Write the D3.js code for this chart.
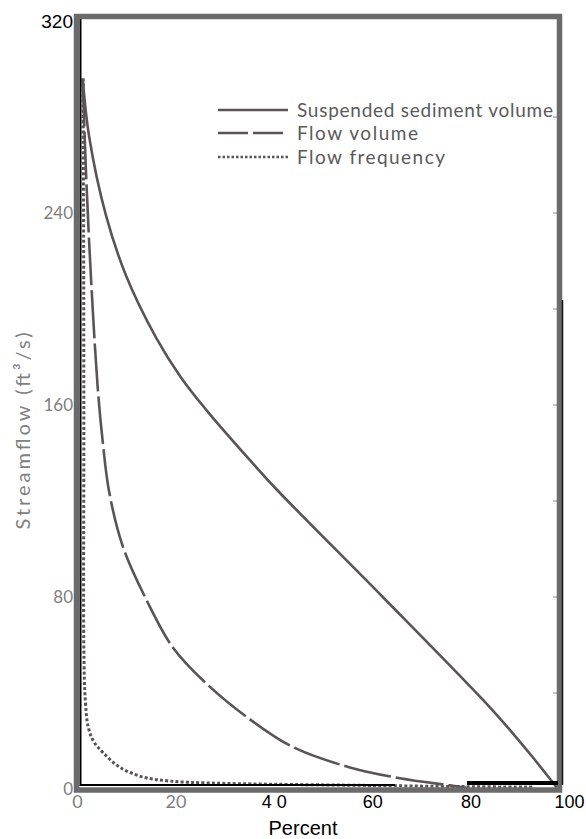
<!DOCTYPE html>
<html>
<head>
<meta charset="utf-8">
<script src="https://cdn.jsdelivr.net/npm/d3@7"></script>
<style>
  html, body { margin: 0; padding: 0; background: #fff; }
  svg { display: block; }
</style>
</head>
<body>
<svg id="chart" width="586" height="839"></svg>
<script>
// ---- data ----
const pctSediment = [0.36, 1.7, 5.25, 9.45, 15.8, 21, 26.3, 35.5, 41, 63.4, 84.5, 90.8, 95, 99.2, 100];
const sedimentVolume = [296, 272, 239, 214, 188, 171.5, 158, 137, 125, 80, 37, 23, 13, 2.5, 0.5];

const pctFlow = [0.36, 1.05, 2.1, 3.5, 4.6, 5.9, 8.8, 13.7, 19.3, 26.3, 35.5, 44.5, 56.5, 67, 77.5, 81];
const flowVolume = [296, 257, 213, 167.5, 144, 124, 101, 79, 59, 44, 29, 17.5, 9, 4.5, 1.5, 0.5];

const pctFreq = [0.45, 0.55, 0.6, 0.6, 0.9, 1.5, 2.6, 4.7, 8.2, 13, 18.7, 27, 40, 60, 80, 95];
const flowFrequency = [296, 230, 150, 58, 37, 26, 20, 15, 9, 5, 3.3, 2.5, 2, 1.5, 1, 0.8];

const seriesNames = ["Suspended sediment volume", "Flow volume", "Flow frequency"];
const yTicks = [0, 80, 160, 240, 320];
const xTicks = [0, 20, 40, 60, 80, 100];
const xTickLabels = ["0", "20", "4 0", "60", "80", "100"];
const rightTicks = [40, 80, 120, 160, 200, 240, 280];

// ---- drawing ----
const svg = d3.select("#chart");
const x = d3.scaleLinear().domain([0, 100]).range([81, 557]);
const xLab = d3.scaleLinear().domain([0, 100]).range([77, 569]);
const y = d3.scaleLinear().domain([0, 320]).range([789, 21]);

const curveColor = "#5a5457";
const frameColor = "#6b6b6b";
const grayText = "#808080";
const futura = "Lato, 'Open Sans', sans-serif";
const arial = "'Liberation Sans', Arial, sans-serif";

// curves
const line = d3.line().x(d => x(d[0])).y(d => y(d[1])).curve(d3.curveCatmullRom.alpha(0.5));
const zip = (a, b) => a.map((v, i) => [v, b[i]]);

svg.append("path").datum(zip(pctFreq, flowFrequency))
  .attr("d", line).attr("fill", "none").attr("stroke", curveColor)
  .attr("stroke-width", 3).attr("stroke-dasharray", "3,2.2");
svg.append("path").datum(zip(pctFlow, flowVolume))
  .attr("d", line).attr("fill", "none").attr("stroke", curveColor)
  .attr("stroke-width", 2.6).attr("stroke-dasharray", "48,5");
svg.append("path").datum(zip(pctSediment, sedimentVolume))
  .attr("d", line).attr("fill", "none").attr("stroke", curveColor)
  .attr("stroke-width", 2.6);

// frame
svg.append("rect").attr("x", 76.5).attr("y", 16.5).attr("width", 483).attr("height", 773.5)
  .attr("fill", "none").attr("stroke", frameColor).attr("stroke-width", 5.5);
// inner black lines
svg.append("line").attr("x1", 80.5).attr("x2", 80.5).attr("y1", 19).attr("y2", 786)
  .attr("stroke", "#000").attr("stroke-width", 2);
svg.append("line").attr("x1", 80).attr("x2", 395).attr("y1", 785).attr("y2", 785)
  .attr("stroke", "#000").attr("stroke-width", 2);
svg.append("line").attr("x1", 467).attr("x2", 558).attr("y1", 783).attr("y2", 783)
  .attr("stroke", "#000").attr("stroke-width", 4);
svg.append("line").attr("x1", 562.5).attr("x2", 562.5).attr("y1", 300).attr("y2", 785)
  .attr("stroke", "#111").attr("stroke-width", 1.5);

// right small ticks
svg.selectAll(".rtick").data(rightTicks).join("line")
  .attr("x1", x(100) - 4).attr("x2", x(100)).attr("y1", d => y(d)).attr("y2", d => y(d))
  .attr("stroke", "#888").attr("stroke-width", 1);

// y axis
const yAxis = svg.append("g").attr("transform", "translate(75,0)")
  .call(d3.axisLeft(y).tickValues(yTicks).tickSize(0).tickPadding(2));
yAxis.select(".domain").remove();
yAxis.selectAll("text")
  .attr("fill", d => d === 320 ? "#000" : grayText)
  .style("font-family", d => d === 320 ? arial : futura)
  .style("font-size", d => d === 320 ? "19px" : "17px");

// x axis
const xAxis = svg.append("g").attr("transform", "translate(0,793)")
  .call(d3.axisBottom(xLab).tickValues(xTicks).tickSize(0).tickPadding(2)
    .tickFormat((d, i) => xTickLabels[i]));
xAxis.select(".domain").remove();
xAxis.selectAll("text")
  .attr("fill", d => d <= 20 ? grayText : "#000")
  .style("font-family", d => d <= 20 ? futura : arial)
  .style("font-size", "18px");

// axis titles
svg.append("text").attr("x", 303).attr("y", 835).attr("text-anchor", "middle")
  .style("font-family", arial).style("font-size", "20px").attr("fill", "#000")
  .text("Percent");
svg.append("text").attr("transform", "translate(30,431) rotate(-90)")
  .attr("text-anchor", "middle")
  .style("font-family", futura).style("font-size", "20px").attr("fill", grayText)
  .attr("textLength", 197).attr("lengthAdjust", "spacing")
  .text("Streamflow (ft³/s)");

// legend
const legendY = [110, 133, 157];
const legendW = [256, 121, 148];
const dashes = [null, "30,5", "2.5,2"];
const widths = [2.6, 2.6, 2.4];
const lg = svg.append("g");
seriesNames.forEach((name, i) => {
  lg.append("line").attr("x1", 218).attr("x2", 288).attr("y1", legendY[i]).attr("y2", legendY[i])
    .attr("stroke", curveColor).attr("stroke-width", widths[i])
    .attr("stroke-dasharray", dashes[i]);
  lg.append("text").attr("x", 297).attr("y", legendY[i] + 7)
    .style("font-family", futura).style("font-size", "19px").attr("fill", "#5a5a5a")
    .attr("textLength", legendW[i]).attr("lengthAdjust", "spacing")
    .text(name);
});
</script>
</body>
</html>
